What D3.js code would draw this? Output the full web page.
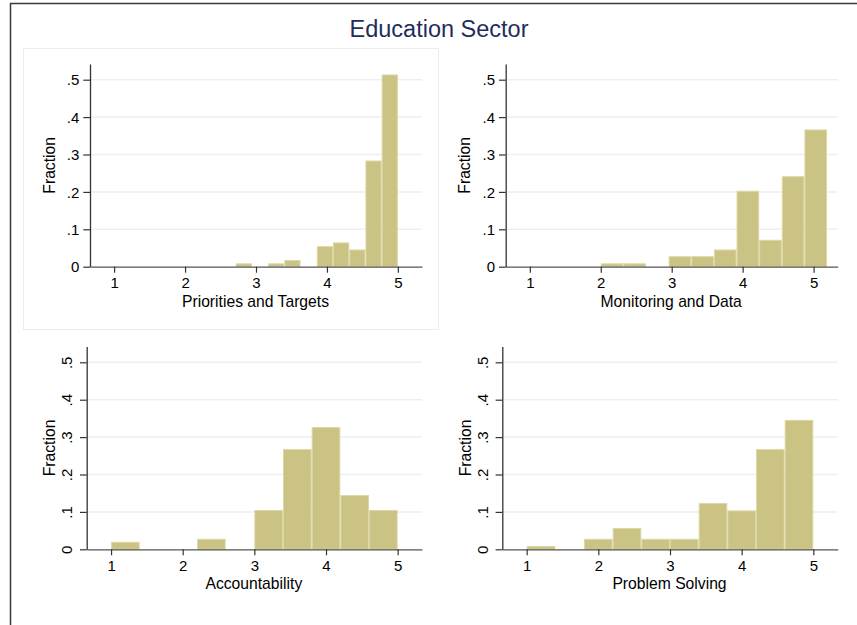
<!DOCTYPE html>
<html>
<head>
<meta charset="utf-8">
<script src="https://cdn.jsdelivr.net/npm/d3@7"></script>
<style>
  html, body { margin: 0; padding: 0; background: #ffffff; }
  svg { display: block; font-family: "Liberation Sans", Arial, Helvetica, sans-serif; }
</style>
</head>
<body>
<svg id="chart" width="857" height="625"></svg>
<script>
// Histogram data: fraction of responses in each bin, by sub-index
const chartTitle = "Education Sector";
const panelTitles = ["Priorities and Targets", "Monitoring and Data", "Accountability", "Problem Solving"];

const priorBinStart = 2.714, priorBinWidth = 0.2286;
const priorFractions = [0.009, 0, 0.009, 0.018, 0, 0.055, 0.065, 0.046, 0.284, 0.514];

const monitorBinStart = 2.0, monitorBinWidth = 0.319;
const monitorFractions = [0.009, 0.009, 0, 0.028, 0.028, 0.046, 0.203, 0.072, 0.242, 0.367];

const accountBinStart = 1.0, accountBinWidth = 0.4;
const accountFractions = [0.020, 0, 0, 0.028, 0, 0.105, 0.268, 0.327, 0.145, 0.105];

const problemBinStart = 1.0, problemBinWidth = 0.4;
const problemFractions = [0.009, 0, 0.028, 0.057, 0.028, 0.028, 0.124, 0.104, 0.268, 0.346];

const xTicks = [1, 2, 3, 4, 5];
const yTicks = [0, 0.1, 0.2, 0.3, 0.4, 0.5];
const yTickLabels = ["0", ".1", ".2", ".3", ".4", ".5"];
const xDomain = [0.66, 5.34];
const yDomain = [0, 0.542];

const svg = d3.select("#chart");

// outer frame of the combined graph (continues past the window edge)
svg.append("rect")
  .attr("x", 10.5).attr("y", 3.5)
  .attr("width", 870).attr("height", 650)
  .attr("fill", "none").attr("stroke", "#3a3a3a").attr("stroke-width", 1.5);

// faint region outline around the first graph
svg.append("rect")
  .attr("x", 23.5).attr("y", 48.5)
  .attr("width", 415).attr("height", 281)
  .attr("fill", "none").attr("stroke", "#e6eeee").attr("stroke-width", 1);

svg.append("text")
  .attr("x", 439).attr("y", 37.3)
  .attr("text-anchor", "middle")
  .attr("font-size", 23.5)
  .attr("fill", "#1f2d5c")
  .text(chartTitle);

const panels = [
  { title: panelTitles[0], start: priorBinStart, width: priorBinWidth, values: priorFractions,
    left: 90, right: 422, y0: 266.7, rotateY: false },
  { title: panelTitles[1], start: monitorBinStart, width: monitorBinWidth, values: monitorFractions,
    left: 505.7, right: 837.7, y0: 266.7, rotateY: false },
  { title: panelTitles[2], start: accountBinStart, width: accountBinWidth, values: accountFractions,
    left: 86.7, right: 422, y0: 549.3, rotateY: true },
  { title: panelTitles[3], start: problemBinStart, width: problemBinWidth, values: problemFractions,
    left: 502.3, right: 837.7, y0: 549.3, rotateY: true }
];

const pxPerUnitY = 374;
const tickFont = 15;

panels.forEach(p => {
  const x = d3.scaleLinear().domain(xDomain).range([p.left, p.right]);
  const y = d3.scaleLinear().domain(yDomain).range([p.y0, p.y0 - yDomain[1] * pxPerUnitY]);
  const g = svg.append("g");

  // horizontal gridlines
  g.selectAll("line.grid")
    .data(yTicks.filter(d => d > 0))
    .join("line")
    .attr("class", "grid")
    .attr("x1", p.left).attr("x2", p.right)
    .attr("y1", d => y(d)).attr("y2", d => y(d))
    .attr("stroke", "#e9f1f1").attr("stroke-width", 1.5);

  // histogram bars
  const bins = p.values.map((v, i) => ({ x0: p.start + i * p.width, x1: p.start + (i + 1) * p.width, v }))
    .filter(b => b.v > 0);
  g.selectAll("rect.bar")
    .data(bins)
    .join("rect")
    .attr("class", "bar")
    .attr("x", d => x(d.x0) + 0.5)
    .attr("width", d => x(d.x1) - x(d.x0) - 1)
    .attr("y", d => y(d.v) + 0.5)
    .attr("height", d => y(0) - y(d.v) - 0.5)
    .attr("fill", "#cbc383")
    .attr("stroke", "#ddd7a5")
    .attr("stroke-width", 1);

  // x axis
  const xAxis = g.append("g")
    .attr("transform", `translate(0,${p.y0})`)
    .call(d3.axisBottom(x).tickValues(xTicks).tickSize(6).tickSizeOuter(0).tickFormat(d3.format("d")));
  xAxis.select(".domain").attr("stroke", "#555").attr("stroke-width", 1.3);
  xAxis.selectAll(".tick line").attr("stroke", "#333").attr("stroke-width", 1.2);
  xAxis.selectAll(".tick text")
    .attr("y", 21.8).attr("dy", 0)
    .attr("font-size", tickFont).attr("fill", "#000")
    .attr("font-family", "Liberation Sans, Arial, sans-serif");

  // y axis
  const yAxis = g.append("g")
    .attr("transform", `translate(${p.left},0)`)
    .call(d3.axisLeft(y).tickValues(yTicks).tickSize(6.7).tickSizeOuter(0)
      .tickFormat((d, i) => yTickLabels[i]));
  yAxis.select(".domain").attr("stroke", "#333").attr("stroke-width", 1.3);
  yAxis.selectAll(".tick line").attr("stroke", "#333").attr("stroke-width", 1.2);
  const yText = yAxis.selectAll(".tick text")
    .attr("font-size", tickFont).attr("fill", "#000")
    .attr("font-family", "Liberation Sans, Arial, sans-serif");
  if (p.rotateY) {
    yText.attr("x", 0).attr("y", -14.7).attr("dy", 0)
      .attr("text-anchor", "middle")
      .attr("transform", "rotate(-90)");
  } else {
    yText.attr("x", -10.7).attr("dy", "0.35em");
  }

  // axis titles
  g.append("text")
    .attr("x", (p.left + p.right) / 2 - 0.5)
    .attr("y", p.y0 + 40)
    .attr("text-anchor", "middle")
    .attr("font-size", 15.7).attr("fill", "#000")
    .text(p.title);

  const yTitleX = p.rotateY ? p.left - 31.5 : p.left - 35.5;
  const yMid = (y(0) + y(yDomain[1])) / 2;
  g.append("text")
    .attr("transform", `translate(${yTitleX},${yMid}) rotate(-90)`)
    .attr("text-anchor", "middle")
    .attr("font-size", 15.7).attr("fill", "#000")
    .text("Fraction");
});
</script>
</body>
</html>
